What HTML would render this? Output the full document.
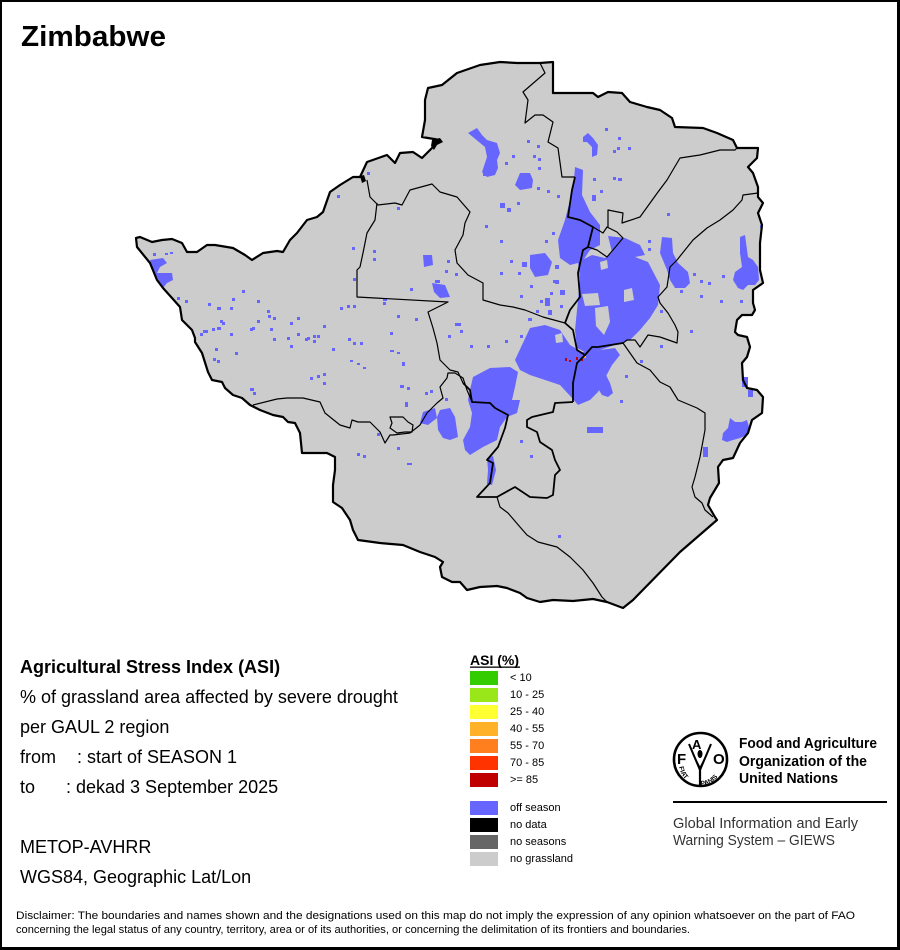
<!DOCTYPE html>
<html><head><meta charset="utf-8"><style>
html,body{margin:0;padding:0;background:#fff}
svg{display:block}
text{font-family:"Liberation Sans",Arial,sans-serif}
</style></head><body>
<svg width="900" height="950" viewBox="0 0 900 950" xmlns="http://www.w3.org/2000/svg">
<defs>
<path id="ctry" d="M136,238 L140,237 152,242 162,240 172,239 182,243 187,252 197,252 207,245 215,245 233,248 245,255 252,260 263,253 277,251 283,252 290,240 297,233 307,220 317,217 323,212 330,192 340,185 353,177 360,177 367,162 387,155 395,163 400,153 413,152 422,158 433,147 440,140 422,137 425,120 425,100 428,88 442,85 457,73 480,65 500,62 517,63 540,63 553,62 553,93 593,93 598,97 608,92 622,93 630,102 647,107 660,110 672,118 675,127 703,128 717,133 733,140 737,148 758,148 757,158 748,167 753,173 758,187 758,197 763,203 758,213 762,225 760,243 760,270 763,283 753,290 753,303 755,310 752,315 742,315 737,320 735,332 738,335 747,337 750,347 747,357 742,363 743,380 747,388 757,390 763,397 762,413 752,420 748,433 740,443 733,458 723,460 718,467 719,483 710,498 708,505 715,517 717,520 680,552 633,600 623,608 607,602 593,599 573,601 553,600 540,602 527,598 520,593 507,588 497,586 480,587 467,590 460,582 452,582 442,577 440,567 443,562 435,557 420,552 403,545 380,543 358,540 353,530 350,520 342,508 333,502 333,485 335,470 335,457 327,453 302,453 300,433 295,423 288,422 283,417 273,415 260,410 250,405 242,398 233,395 225,388 222,382 212,380 208,372 202,353 195,342 195,338 192,330 187,325 182,320 180,307 172,298 163,288 157,280 150,263 137,247 Z"/>
</defs>
<rect x="0" y="0" width="900" height="950" fill="#fff"/>
<rect x="0" y="0" width="900" height="2" fill="#000"/>
<rect x="0" y="0" width="2" height="950" fill="#000"/>
<rect x="897" y="0" width="3" height="950" fill="#000"/>
<rect x="0" y="947" width="900" height="3" fill="#000"/>

<text x="21" y="46" font-size="29" font-weight="bold" textLength="145" lengthAdjust="spacingAndGlyphs">Zimbabwe</text>

<use href="#ctry" fill="#cccccc"/>

<g fill="#6666ff">
<polygon points="575,167 583,170 582,195 590,212 600,225 600,245 590,250 582,262 570,265 560,258 558,240 565,220 570,200 574,180"/>
<polygon points="578,262 592,255 605,258 615,250 630,255 648,262 660,285 658,305 650,318 640,330 630,340 615,345 600,350 585,352 577,348 575,330 578,300 580,280"/>
<polygon points="608,236 625,238 640,245 645,255 630,258 612,252"/>
<polygon points="530,328 545,325 560,330 570,345 582,352 600,350 615,348 620,355 612,365 605,378 598,392 590,400 578,405 572,398 560,385 545,380 530,375 520,370 515,360 522,345"/>
<polygon points="530,255 545,253 552,262 548,275 535,277 530,268"/>
<polygon points="473,377 490,368 510,367 518,372 515,387 512,400 520,400 517,413 507,417 500,427 497,440 483,447 470,455 465,450 463,440 470,427 472,413 468,400 470,390"/>
<polygon points="440,410 450,408 455,417 458,437 450,440 443,438 438,430 437,417"/>
<polygon points="423,412 435,408 437,418 428,425 420,423"/>
<polygon points="468,133 477,128 482,135 487,140 497,143 500,153 497,160 498,168 495,175 487,177 482,172 485,163 487,157 485,147"/>
<polygon points="520,173 530,173 533,180 532,188 520,190 515,185"/>
<polygon points="583,137 588,133 593,138 598,145 597,155 592,157 592,147 587,142 583,142"/>
<polygon points="662,237 672,238 673,253 678,263 688,272 690,283 685,288 675,288 670,280 667,270 660,253"/>
<polygon points="740,237 745,235 748,257 753,260 758,267 759,280 755,285 748,285 743,290 738,288 733,280 735,272 742,267 740,253"/>
<polygon points="730,418 735,422 742,422 747,420 749,427 747,435 740,438 733,440 727,442 722,440 723,433 728,428"/>
<polygon points="598,372 605,373 610,383 613,393 608,397 602,395 597,387 595,378"/>
<polygon points="150,260 163,258 167,263 160,267 157,273 172,273 173,280 167,283 163,288 160,283 155,273 152,267"/>
<polygon points="487,458 493,456 496,470 492,485 487,484 488,470"/>
<polygon points="432,283 445,285 450,297 440,298 434,292"/>
<polygon points="423,255 432,255 433,265 424,267"/>
<rect x="587" y="427" width="16" height="6"/>
<rect x="742" y="377" width="6" height="10"/>
<rect x="748" y="390" width="5" height="7"/>
<rect x="703" y="447" width="5" height="10"/>
<rect x="483" y="171" width="8" height="5"/>
<rect x="500" y="203" width="5" height="5"/><rect x="507" y="208" width="4" height="4"/>
<rect x="522" y="262" width="5" height="5"/><rect x="555" y="265" width="4" height="4"/>
<rect x="545" y="298" width="5" height="8"/><rect x="548" y="310" width="4" height="5"/>
<rect x="560" y="290" width="5" height="5"/><rect x="555" y="280" width="4" height="4"/>
</g>
<g fill="#cccccc">
<polygon points="595,308 608,306 610,322 604,335 596,326"/>
<polygon points="582,294 598,293 600,305 585,306"/>
<polygon points="624,290 632,288 634,300 624,302"/>
<polygon points="555,335 562,333 563,342 556,343"/>
<polygon points="600,262 607,260 608,268 601,270"/>
</g>
<g fill="#6666ff">
<rect x="153" y="253" width="3" height="3"/><rect x="165" y="253" width="3" height="2"/><rect x="170" y="252" width="3" height="2"/><rect x="177" y="297" width="3" height="3"/><rect x="185" y="300" width="3" height="3"/><rect x="208" y="303" width="3" height="3"/><rect x="217" y="307" width="4" height="3"/><rect x="230" y="307" width="3" height="3"/><rect x="242" y="290" width="3" height="3"/><rect x="232" y="298" width="3" height="3"/><rect x="257" y="300" width="3" height="3"/><rect x="267" y="310" width="3" height="3"/><rect x="273" y="317" width="3" height="3"/><rect x="252" y="327" width="3" height="3"/><rect x="220" y="320" width="3" height="3"/><rect x="217" y="327" width="4" height="3"/><rect x="203" y="330" width="4" height="3"/><rect x="200" y="333" width="3" height="3"/><rect x="297" y="317" width="3" height="3"/><rect x="290" y="322" width="3" height="3"/><rect x="307" y="337" width="3" height="3"/><rect x="313" y="335" width="3" height="3"/><rect x="323" y="325" width="3" height="3"/><rect x="347" y="305" width="3" height="3"/><rect x="353" y="305" width="3" height="3"/><rect x="352" y="247" width="3" height="3"/><rect x="353" y="278" width="3" height="3"/><rect x="373" y="258" width="3" height="3"/><rect x="373" y="250" width="3" height="3"/><rect x="383" y="298" width="4" height="3"/><rect x="397" y="315" width="3" height="3"/><rect x="410" y="288" width="3" height="3"/><rect x="427" y="260" width="3" height="3"/><rect x="445" y="270" width="3" height="3"/><rect x="435" y="280" width="3" height="3"/><rect x="442" y="293" width="3" height="3"/><rect x="455" y="323" width="3" height="3"/><rect x="448" y="335" width="3" height="3"/><rect x="397" y="207" width="3" height="3"/><rect x="337" y="195" width="3" height="3"/><rect x="367" y="172" width="3" height="3"/>
<rect x="222" y="322" width="3" height="3"/><rect x="205" y="330" width="3" height="3"/><rect x="212" y="328" width="3" height="3"/><rect x="230" y="333" width="3" height="3"/><rect x="250" y="328" width="3" height="3"/><rect x="257" y="320" width="3" height="3"/><rect x="268" y="315" width="3" height="3"/><rect x="270" y="328" width="3" height="3"/><rect x="273" y="338" width="3" height="3"/><rect x="287" y="337" width="3" height="3"/><rect x="297" y="333" width="3" height="3"/><rect x="305" y="338" width="3" height="3"/><rect x="313" y="340" width="3" height="3"/><rect x="317" y="335" width="3" height="3"/><rect x="290" y="345" width="3" height="3"/><rect x="332" y="348" width="3" height="3"/><rect x="348" y="338" width="3" height="3"/><rect x="353" y="342" width="3" height="3"/><rect x="360" y="342" width="3" height="3"/><rect x="390" y="350" width="4" height="2"/><rect x="397" y="352" width="3" height="2"/><rect x="350" y="360" width="3" height="2"/><rect x="357" y="363" width="3" height="2"/><rect x="363" y="367" width="3" height="2"/><rect x="402" y="362" width="3" height="4"/><rect x="215" y="348" width="3" height="3"/><rect x="213" y="358" width="3" height="3"/><rect x="217" y="360" width="3" height="3"/><rect x="235" y="352" width="3" height="3"/><rect x="250" y="388" width="4" height="3"/><rect x="253" y="392" width="3" height="3"/><rect x="310" y="377" width="3" height="3"/><rect x="317" y="375" width="3" height="3"/><rect x="323" y="373" width="3" height="3"/><rect x="323" y="382" width="3" height="3"/><rect x="400" y="385" width="4" height="3"/><rect x="407" y="387" width="3" height="3"/><rect x="405" y="402" width="3" height="5"/><rect x="425" y="392" width="3" height="3"/><rect x="430" y="390" width="3" height="3"/><rect x="445" y="398" width="3" height="3"/><rect x="377" y="433" width="3" height="3"/><rect x="397" y="447" width="3" height="3"/><rect x="357" y="453" width="3" height="3"/><rect x="363" y="455" width="3" height="3"/><rect x="407" y="463" width="5" height="2"/><rect x="340" y="307" width="3" height="3"/><rect x="383" y="302" width="3" height="3"/><rect x="390" y="332" width="3" height="3"/><rect x="415" y="318" width="3" height="3"/><rect x="458" y="323" width="3" height="3"/><rect x="487" y="345" width="3" height="3"/><rect x="558" y="535" width="3" height="3"/>
<rect x="605" y="128" width="3" height="3"/><rect x="618" y="137" width="3" height="3"/><rect x="617" y="147" width="3" height="3"/><rect x="613" y="150" width="3" height="3"/><rect x="628" y="147" width="3" height="3"/><rect x="618" y="178" width="4" height="3"/><rect x="613" y="177" width="3" height="3"/><rect x="592" y="195" width="4" height="6"/><rect x="667" y="213" width="3" height="3"/><rect x="648" y="240" width="3" height="3"/><rect x="648" y="248" width="3" height="3"/><rect x="760" y="225" width="2" height="3"/><rect x="722" y="275" width="3" height="3"/><rect x="700" y="280" width="3" height="3"/><rect x="708" y="282" width="3" height="3"/><rect x="693" y="273" width="3" height="3"/><rect x="557" y="195" width="3" height="3"/><rect x="547" y="190" width="3" height="3"/><rect x="537" y="187" width="3" height="3"/><rect x="538" y="167" width="3" height="3"/><rect x="533" y="155" width="3" height="3"/><rect x="538" y="158" width="3" height="3"/><rect x="527" y="140" width="3" height="3"/><rect x="537" y="145" width="3" height="3"/><rect x="517" y="202" width="3" height="3"/><rect x="447" y="260" width="3" height="3"/><rect x="455" y="273" width="3" height="3"/><rect x="437" y="280" width="3" height="3"/><rect x="500" y="272" width="3" height="3"/><rect x="553" y="280" width="3" height="3"/><rect x="550" y="292" width="3" height="3"/><rect x="530" y="285" width="3" height="3"/><rect x="520" y="295" width="3" height="3"/><rect x="510" y="260" width="3" height="3"/><rect x="500" y="240" width="3" height="3"/><rect x="485" y="225" width="3" height="3"/><rect x="460" y="330" width="3" height="3"/><rect x="470" y="345" width="3" height="3"/><rect x="505" y="340" width="3" height="3"/><rect x="520" y="335" width="3" height="3"/><rect x="650" y="300" width="3" height="3"/><rect x="660" y="310" width="3" height="3"/><rect x="680" y="290" width="3" height="3"/><rect x="720" y="300" width="3" height="3"/><rect x="700" y="295" width="3" height="3"/><rect x="740" y="300" width="3" height="3"/><rect x="640" y="360" width="3" height="3"/><rect x="625" y="375" width="3" height="3"/><rect x="620" y="400" width="3" height="3"/><rect x="520" y="440" width="3" height="3"/><rect x="530" y="455" width="3" height="3"/><rect x="660" y="345" width="3" height="3"/><rect x="690" y="330" width="3" height="3"/>
<rect x="540" y="300" width="3" height="3"/><rect x="536" y="310" width="3" height="3"/><rect x="528" y="318" width="4" height="3"/><rect x="560" y="305" width="3" height="3"/><rect x="518" y="272" width="3" height="3"/><rect x="545" y="240" width="3" height="3"/><rect x="552" y="232" width="3" height="3"/><rect x="600" y="190" width="3" height="3"/><rect x="593" y="178" width="3" height="3"/><rect x="512" y="155" width="3" height="3"/><rect x="505" y="162" width="3" height="3"/><rect x="645" y="270" width="3" height="3"/>
</g>
<g fill="#c00000"><rect x="565" y="358" width="2" height="3"/><rect x="569" y="360" width="2" height="2"/><rect x="576" y="357" width="2" height="3"/><rect x="581" y="359" width="2" height="2"/></g>
<rect x="584" y="356" width="2" height="2" fill="#ffb229"/>

<g fill="none" stroke="#000" stroke-width="1.2" stroke-linejoin="round">
<polyline points="367,180 370,197 378,205 395,203 402,205 410,190 432,184 440,192 457,197 470,212 465,223 463,235 455,250 457,263 468,275 483,283 483,300 500,305 513,307 525,310 543,317 565,323"/>
<polyline points="377,203 375,220 367,233 363,253 360,267 357,270 357,297 448,302 428,312 433,328 437,343 440,360 450,370 458,372 463,383"/>
<polyline stroke-width="1.8" points="463,383 470,390 472,402 490,403 495,408 508,415 505,428 498,447 487,460 493,463 490,483 477,497 497,497 515,487 530,497 547,498 553,495 555,475 560,470 555,460 552,450 540,442 537,432 527,427 527,420 532,417 553,412 555,403 573,402"/>
<polyline stroke-width="1.8" points="573,402 573,383 577,363 585,355 577,350 573,330 565,323 570,310 580,297 578,273 583,250 588,247 593,227 580,220 568,217 572,190 575,177"/>
<polyline points="575,177 562,177 558,148 548,142 553,122 543,115 535,115 525,123 528,100 523,92 545,73 540,63"/>
<polyline points="497,497 500,507 508,513 520,527 527,535 538,542 557,547 570,557 583,570 593,583 602,597 607,602"/>
<polyline stroke-width="1.8" points="585,355 592,347 598,347 623,343"/>
<polyline points="623,343 627,340 635,340 640,347 648,335 660,337 677,343 678,332 675,325 668,313 660,303 658,297 667,287 670,267 677,260 693,240 707,228 720,220 733,210 742,200 743,195 758,193"/>
<polyline points="623,343 637,363 650,370 660,382 670,387 678,400 697,408 705,413 705,430 700,457 695,477 692,487 695,497 702,503 705,510 713,517"/>
<polyline points="608,227 608,210 623,213 622,223 640,217 658,192 667,180 680,158 700,155 720,150 735,150 737,148"/>
<polyline points="593,227 603,233 607,227 617,232 623,238 613,250 607,257 597,250 588,247"/>
<polyline points="253,405 277,399 287,398 303,398 320,402 325,413 340,425 350,428 352,420 358,422 370,422 380,432 385,443 390,435 393,435 410,433 420,425 427,413 437,403 443,398 440,387 447,378 448,373 455,373 463,378 467,390 472,402"/>
<polygon points="390,417 403,417 408,422 413,425 412,432 405,432 397,433 390,428 392,423"/>
</g>
<use href="#ctry" fill="none" stroke="#000" stroke-width="2.2" stroke-linejoin="round"/>
<g fill="#000">
<polygon points="432,140 440,138 443,142 437,145 434,150 431,146"/>
<polygon points="360,176 364,175 366,181 362,183"/>
</g>

<text x="20" y="673" font-size="18" font-weight="bold">Agricultural Stress Index (ASI)</text>
<text x="20" y="703" font-size="18">% of grassland area affected by severe drought</text>
<text x="20" y="733" font-size="18">per GAUL 2 region</text>
<text x="20" y="763" font-size="18">from</text><text x="77" y="763" font-size="18">: start of SEASON 1</text>
<text x="20" y="793" font-size="18">to</text><text x="66" y="793" font-size="18">: dekad 3 September 2025</text>
<text x="20" y="853" font-size="18">METOP-AVHRR</text>
<text x="20" y="883" font-size="18">WGS84, Geographic Lat/Lon</text>

<text x="16" y="919" font-size="11" textLength="839" lengthAdjust="spacingAndGlyphs">Disclaimer: The boundaries and names shown and the designations used on this map do not imply the expression of any opinion whatsoever on the part of FAO</text>
<text x="16" y="933" font-size="11" textLength="674" lengthAdjust="spacingAndGlyphs">concerning the legal status of any country, territory, area or of its authorities, or concerning the delimitation of its frontiers and boundaries.</text>

<text x="470" y="665" font-size="14" font-weight="bold">ASI (%)</text>
<rect x="470" y="666.5" width="50" height="1.3" fill="#000"/>
<rect x="470" y="671" width="28" height="14" fill="#33cc00"/>
<rect x="470" y="688" width="28" height="14" fill="#99e619"/>
<rect x="470" y="705" width="28" height="14" fill="#ffff33"/>
<rect x="470" y="722" width="28" height="14" fill="#ffb229"/>
<rect x="470" y="739" width="28" height="14" fill="#ff7f1f"/>
<rect x="470" y="756" width="28" height="14" fill="#ff3300"/>
<rect x="470" y="773" width="28" height="14" fill="#c00000"/>
<rect x="470" y="801" width="28" height="14" fill="#6666ff"/>
<rect x="470" y="818" width="28" height="14" fill="#000000"/>
<rect x="470" y="835" width="28" height="14" fill="#666666"/>
<rect x="470" y="852" width="28" height="14" fill="#cccccc"/>
<g font-size="11">
<text x="510" y="681">&lt; 10</text>
<text x="510" y="698">10 - 25</text>
<text x="510" y="715">25 - 40</text>
<text x="510" y="732">40 - 55</text>
<text x="510" y="749">55 - 70</text>
<text x="510" y="766">70 - 85</text>
<text x="510" y="783">&gt;= 85</text>
<text x="510" y="811">off season</text>
<text x="510" y="828">no data</text>
<text x="510" y="845">no seasons</text>
<text x="510" y="862">no grassland</text>
</g>

<g>
<circle cx="700.5" cy="759.5" r="26.5" fill="none" stroke="#000" stroke-width="2.6"/>
<text x="677" y="764" font-size="15" font-weight="bold">F</text>
<text x="692" y="749" font-size="13" font-weight="bold">A</text>
<text x="713" y="764" font-size="15" font-weight="bold">O</text>
<path d="M689,744 L700,770 L711,744" fill="none" stroke="#000" stroke-width="2"/>
<path d="M693,754 L700,768 L707,754" fill="none" stroke="#000" stroke-width="1.5"/>
<line x1="700" y1="768" x2="700" y2="785" stroke="#000" stroke-width="2.2"/>
<ellipse cx="700" cy="754" rx="2.5" ry="4" fill="#000"/>
<path id="arcb" d="M679,764 A21.5,21.5 0 0 0 722,764" fill="none"/>
<text font-size="6.5" font-weight="bold"><textPath href="#arcb" startOffset="3">FIAT</textPath></text>
<text font-size="6.5" font-weight="bold"><textPath href="#arcb" startOffset="34">PANIS</textPath></text>
</g>
<text x="739" y="748" font-size="14.5" font-weight="bold" textLength="138" lengthAdjust="spacingAndGlyphs">Food and Agriculture</text>
<text x="739" y="766" font-size="14.5" font-weight="bold" textLength="128" lengthAdjust="spacingAndGlyphs">Organization of the</text>
<text x="739" y="783" font-size="14.5" font-weight="bold" textLength="99" lengthAdjust="spacingAndGlyphs">United Nations</text>
<rect x="673" y="801" width="214" height="2" fill="#000"/>
<text x="673" y="828" font-size="15" fill="#333" textLength="185" lengthAdjust="spacingAndGlyphs">Global Information and Early</text>
<text x="673" y="845" font-size="15" fill="#333" textLength="162" lengthAdjust="spacingAndGlyphs">Warning System – GIEWS</text>
</svg>
</body></html>
